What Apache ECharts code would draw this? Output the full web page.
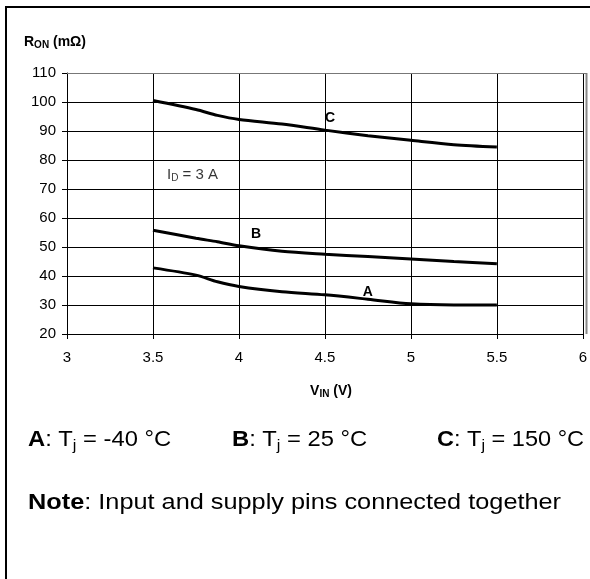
<!DOCTYPE html>
<html><head><meta charset="utf-8">
<script src="https://cdn.jsdelivr.net/npm/echarts@6/dist/echarts.min.js"></script>
<style>html,body{margin:0;padding:0;background:#fff}#c{width:590px;height:579px}</style>
</head><body><div id="c"></div>
<script>
var vin = [3.5, 3.75, 3.875, 4.0, 4.25, 4.5, 4.75, 5.0, 5.25, 5.5];
var curveA = [42.8, 40.3, 38.0, 36.4, 34.6, 33.5, 32.0, 30.4, 30.0, 30.0];
var curveB = [55.8, 53.0, 51.8, 50.4, 48.5, 47.5, 46.7, 45.9, 45.0, 44.2];
var curveC = [100.5, 97.4, 95.4, 94.0, 92.4, 90.3, 88.4, 86.8, 85.3, 84.5];
var xTicks = [3, 3.5, 4, 4.5, 5, 5.5, 6];
var yTicks = [20, 30, 40, 50, 60, 70, 80, 90, 100, 110];
var labelA = [4.75, 34.3], labelB = [4.1, 54.3], labelC = [4.53, 94.3], labelID = [3.73, 75];

function pairs(xs, ys){ return xs.map(function(x,i){return [x, ys[i]];}); }
var F = 'Liberation Sans, Arial, sans-serif';

function curve(name, ys, lab){
  return {
    type:'line', name:name, data:pairs(vin, ys), showSymbol:false, smooth:0.3,
    lineStyle:{color:'#000', width:3}, silent:true, z:5,
    markPoint:{ symbolSize:0, silent:true, data:[{coord:lab, value:name}],
      label:{show:true, formatter:name, color:'#000', fontFamily:F, fontWeight:'bold', fontSize:14, position:'inside'} }
  };
}
function legendText(x, y, bold, rest, sub, tail, sx){
  return {type:'text', x:x, y:y, scaleX:sx, originX:0, originY:0, silent:true,
    style:{text:'{b|'+bold+'}{n|'+rest+'}'+(sub?'{s|'+sub+'}':'')+'{n|'+tail+'}', verticalAlign:'middle', align:'left',
      rich:{b:{fontSize:22, fontWeight:'bold', fontFamily:F, fill:'#000'},
            n:{fontSize:22, fontFamily:F, fill:'#000'},
            s:{fontSize:15, fontFamily:F, fill:'#000', padding:[11,0,0,0]}}}};
}

var chart = echarts.init(document.getElementById('c'), null, {renderer:'canvas'});
chart.setOption({
  animation:false,
  backgroundColor:'#fff',
  grid:{left:67, right:4, top:73, bottom:245, show:false},
  xAxis:{type:'value', min:xTicks[0], max:xTicks[xTicks.length-1], interval:0.5,
    axisLine:{onZero:false, lineStyle:{color:'#000', width:1}},
    axisTick:{show:true, length:5, lineStyle:{color:'#000'}},
    axisLabel:{color:'#000', fontFamily:F, fontSize:15, margin:16},
    splitLine:{show:true, lineStyle:{color:'#000', width:1}}
  },
  yAxis:{type:'value', min:yTicks[0], max:yTicks[yTicks.length-1], interval:10,
    axisLine:{show:true, lineStyle:{color:'#000', width:1}},
    axisTick:{show:true, length:5, lineStyle:{color:'#000'}},
    axisLabel:{color:'#000', fontFamily:F, fontSize:15, margin:11},
    splitLine:{show:true, lineStyle:{color:'#000', width:1}}
  },
  series:[
    curve('A', curveA, labelA),
    curve('B', curveB, labelB),
    curve('C', curveC, labelC),
    {type:'scatter', data:[labelID], symbolSize:0, silent:true,
      label:{show:true, position:'inside', fontFamily:F, color:'#000',
        formatter:'{n|I}{s|D}{n| = 3 A}',
        rich:{n:{fontSize:15, fontFamily:F, color:'#000'}, s:{fontSize:10, fontFamily:F, color:'#000', padding:[8,0,0,0]}}}}
  ],
  graphic:[
    {type:'rect', shape:{x:6, y:7, width:600, height:600}, style:{fill:null, stroke:'#000', lineWidth:2}, silent:true},
    {type:'line', shape:{x1:586.5, y1:73, x2:586.5, y2:334}, style:{stroke:'#888', lineWidth:2}, silent:true, z:100},
    {type:'line', shape:{x1:67, y1:73.5, x2:587, y2:73.5}, style:{stroke:'#777', lineWidth:1}, silent:true, z:100},
    {type:'text', x:24, y:42, silent:true, style:{text:'{n|R}{s|ON}{n| (mΩ)}', verticalAlign:'middle', rich:{n:{fontSize:14, fontWeight:'bold', fontFamily:F, fill:'#000'}, s:{fontSize:10, fontWeight:'bold', fontFamily:F, fill:'#000', padding:[6,0,0,0]}}}},
    {type:'text', x:331, y:391, silent:true, style:{text:'{n|V}{s|IN}{n| (V)}', align:'center', verticalAlign:'middle', rich:{n:{fontSize:14, fontWeight:'bold', fontFamily:F, fill:'#000'}, s:{fontSize:10, fontWeight:'bold', fontFamily:F, fill:'#000', padding:[6,0,0,0]}}}},
    legendText(28, 440, 'A', ': T', 'j', ' = -40 °C', 1.08),
    legendText(232, 440, 'B', ': T', 'j', ' = 25 °C', 1.08),
    legendText(437, 440, 'C', ': T', 'j', ' = 150 °C', 1.07),
    legendText(28, 503, 'Note', ': Input and supply pins connected together', '', '', 1.15)
  ]
});
</script></body></html>
